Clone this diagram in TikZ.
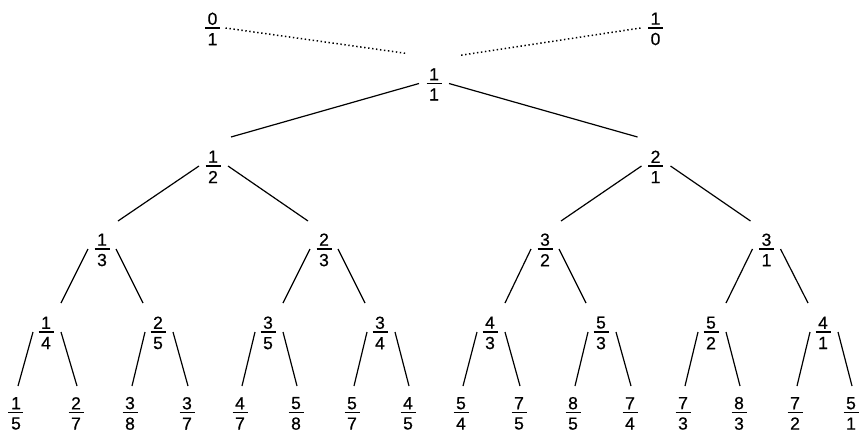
\documentclass[tikz,border=0pt]{standalone}
\usepackage{fontspec}
\setmainfont{Liberation Sans}
\newfontface\digfont{Liberation Sans}[FakeBold=0.5]
\newcommand\fr[2]{\digfont\fontsize{17.5}{20}\selectfont\vbox{\offinterlineskip\kern1.8pt\hbox to 15pt{\hss#1\hss}\kern2.4pt\hrule height 1.6pt\kern4.2pt\hbox to 15pt{\hss#2\hss}}}
\newcommand\lk[5]{\draw[branch] ([xshift=#3pt]#1.center) -- ([xshift=#4pt,yshift=#5pt]#2.center);}
\tikzset{
  frac/.style={inner sep=0pt},
  branch/.style={line width=1.2pt},
  guide/.style={line width=1.5pt, dash pattern=on 1.4pt off 2.6pt}
}
\begin{document}
\begin{tikzpicture}[x=1pt,y=-1pt]
\useasboundingbox[fill=white] (0,0) rectangle (861,434);
% level 0
\node[frac] (z) at (212.5,28) {\fr01};
\node[frac] (i) at (655.5,28) {\fr10};
\node[frac] (r) at (434,83.5) {\fr11};
% level 1
\node[frac] (a) at (213,166) {\fr12};
\node[frac] (b) at (655.5,166) {\fr21};
% level 2
\node[frac] (aa) at (102,249) {\fr13};
\node[frac] (ab) at (324,249) {\fr23};
\node[frac] (ba) at (545,249) {\fr32};
\node[frac] (bb) at (766.5,249) {\fr31};
% level 3
\node[frac] (aaa) at (46,332) {\fr14};
\node[frac] (aab) at (158,332) {\fr25};
\node[frac] (aba) at (268,332) {\fr35};
\node[frac] (abb) at (380,332) {\fr34};
\node[frac] (baa) at (490,332) {\fr43};
\node[frac] (bab) at (601,332) {\fr53};
\node[frac] (bba) at (711,332) {\fr52};
\node[frac] (bbb) at (823,332) {\fr41};
% level 4
\node[frac] (aaaa) at (16,412.5) {\fr15};
\node[frac] (aaab) at (76,412.5) {\fr27};
\node[frac] (aaba) at (130,412.5) {\fr38};
\node[frac] (aabb) at (187,412.5) {\fr37};
\node[frac] (abaa) at (240,412.5) {\fr47};
\node[frac] (abab) at (296,412.5) {\fr58};
\node[frac] (abba) at (352,412.5) {\fr57};
\node[frac] (abbb) at (408,412.5) {\fr45};
\node[frac] (baaa) at (461,412.5) {\fr54};
\node[frac] (baab) at (519,412.5) {\fr75};
\node[frac] (baba) at (573,412.5) {\fr85};
\node[frac] (babb) at (630,412.5) {\fr74};
\node[frac] (bbaa) at (683,412.5) {\fr73};
\node[frac] (bbab) at (739,412.5) {\fr83};
\node[frac] (bbba) at (795,412.5) {\fr72};
\node[frac] (bbbb) at (851,412.5) {\fr51};
% dotted guides
\draw[guide] ([xshift=13pt]z.center) -- ([xshift=-27pt,yshift=30pt]r.center);
\draw[guide] ([xshift=-15pt]i.center) -- ([xshift=25pt,yshift=28pt]r.center);
% branches
\lk{r}{a}{-15}{18}{29}
\lk{r}{b}{15}{-18}{29}
\lk{a}{aa}{-14}{16}{28}
\lk{a}{ab}{15}{-16}{28}
\lk{b}{ba}{-14}{16}{28}
\lk{b}{bb}{15}{-16}{28}
\lk{aa}{aaa}{-14}{15}{29}
\lk{aa}{aab}{14}{-15}{29}
\lk{ab}{aba}{-14}{15}{29}
\lk{ab}{abb}{14}{-15}{29}
\lk{ba}{baa}{-14}{15}{29}
\lk{ba}{bab}{14}{-15}{29}
\lk{bb}{bba}{-14}{15}{29}
\lk{bb}{bbb}{14}{-15}{29}
\lk{aaa}{aaaa}{-13}{2}{26.5}
\lk{aaa}{aaab}{15}{1}{26.5}
\lk{aab}{aaba}{-13}{2}{26.5}
\lk{aab}{aabb}{15}{1}{26.5}
\lk{aba}{abaa}{-13}{2}{26.5}
\lk{aba}{abab}{15}{1}{26.5}
\lk{abb}{abba}{-13}{2}{26.5}
\lk{abb}{abbb}{15}{1}{26.5}
\lk{baa}{baaa}{-13}{2}{26.5}
\lk{baa}{baab}{15}{1}{26.5}
\lk{bab}{baba}{-13}{2}{26.5}
\lk{bab}{babb}{15}{1}{26.5}
\lk{bba}{bbaa}{-13}{2}{26.5}
\lk{bba}{bbab}{15}{1}{26.5}
\lk{bbb}{bbba}{-13}{2}{26.5}
\lk{bbb}{bbbb}{15}{1}{26.5}
\end{tikzpicture}
\end{document}
